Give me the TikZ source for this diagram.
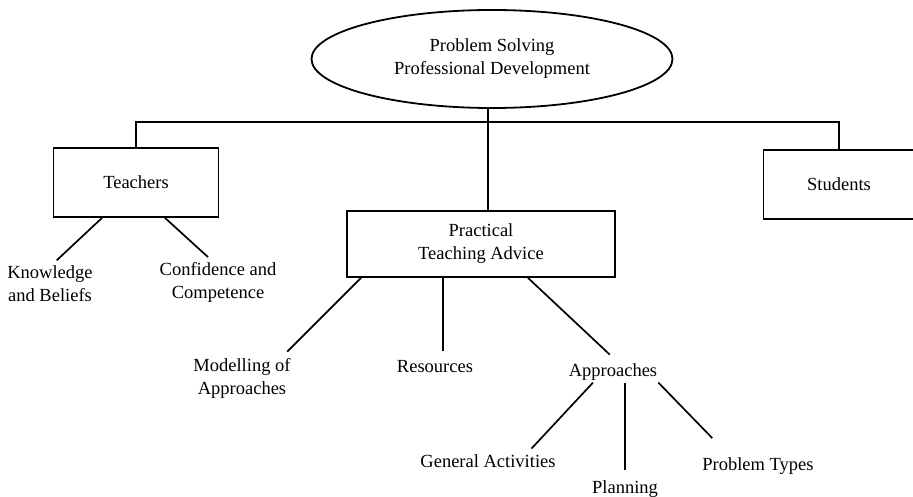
\documentclass[tikz,border=0pt]{standalone}
\usepackage{fontspec}
\setmainfont{Liberation Serif}
\usepackage{tikz}
\usetikzlibrary{shapes.geometric}

\tikzset{
	box/.style={draw, line width=1.8pt, rectangle, align=center},
	lbl/.style={align=center, inner sep=2pt},
	link/.style={line width=1.7pt}
}

\begin{document}
\begin{tikzpicture}[x=1pt,y=-1pt,font=\fontsize{18.5}{23}\selectfont]
	\useasboundingbox (0,0) rectangle (913,497);
	% top of the tree
	\node[ellipse, draw, line width=1.8pt, minimum width=361pt, minimum height=98pt, align=center] at (492,59) (pd) {Problem Solving\\Professional Development};
	\node[box, minimum width=165pt, minimum height=69pt] at (136,182.5) (teach) {Teachers};
	\node[box, minimum width=151pt, minimum height=69pt] at (839,184.5) (stud) {Students};
	\node[box, minimum width=268pt, minimum height=66pt] at (481,244) (prac) {Practical\\Teaching Advice};
	\coordinate (hub) at (488,122);
	\draw[link] (teach.north) |- (hub) -| (stud.north);
	\draw[link] (hub |- pd.south) -- (hub |- prac.north);
	% teachers
	\node[lbl] at (50,284) (know) {Knowledge\\and Beliefs};
	\node[lbl] at (218,282) (conf) {Confidence and\\Competence};
	\draw[link, shorten >=5pt] ([xshift=-34pt]teach.south) -- ([xshift=3pt]know.north);
	\draw[link, shorten >=4pt] ([xshift=29pt]teach.south) -- ([xshift=-7pt]conf.north);
	% teaching advice
	\node[lbl] at (242,378) (model) {Modelling of\\Approaches};
	\node[lbl] at (435,367) (res) {Resources};
	\node[lbl] at (613,372) (appr) {Approaches};
	\draw[link, shorten >=6pt] ([xshift=-120pt]prac.south) -- ([xshift=41pt]model.north);
	\draw[link, shorten >=8pt] ([xshift=-38pt]prac.south) -- ([xshift=-38pt]prac.south |- res.north);
	\draw[link, shorten >=10pt] ([xshift=47pt]prac.south) -- ([xshift=4pt]appr.north);
	% approaches
	\node[lbl] at (488,461) (gen) {General Activities};
	\node[lbl] at (625,489) (plan) {Planning};
	\node[lbl] at (758,466) (types) {Problem Types};
	\draw[link, shorten >=5pt] ([xshift=-20pt]appr.south) -- ([xshift=40pt]gen.north);
	\draw[link, shorten >=8pt] ([xshift=12pt]appr.south) -- (plan.north);
	\draw[link, shorten >=24pt] ([xshift=-1pt]appr.south east) -- ([xshift=-29pt]types.north);
\end{tikzpicture}
\end{document}
